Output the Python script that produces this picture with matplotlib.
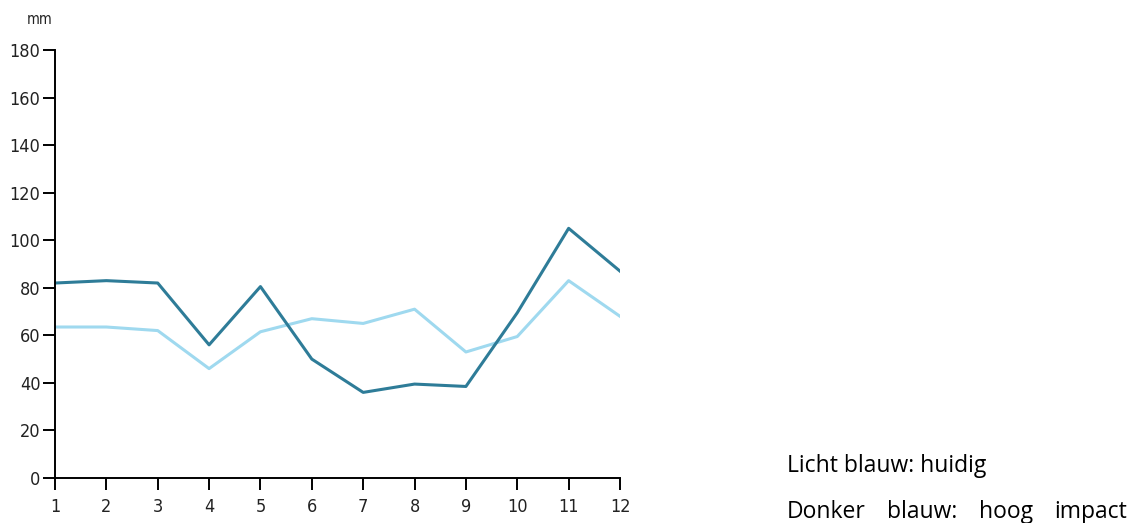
import matplotlib.pyplot as plt

months = [1, 2, 3, 4, 5, 6, 7, 8, 9, 10, 11, 12]
huidig = [63.5, 63.5, 62, 46, 61.5, 67, 65, 71, 53, 59.5, 83, 68]
hoog_impact = [82, 83, 82, 56, 80.5, 50, 36, 39.5, 38.5, 69.5, 105, 87]
y_ticks = [0, 20, 40, 60, 80, 100, 120, 140, 160, 180]
note_1 = "Licht blauw: huidig"
note_2 = ["Donker", "blauw:", "hoog", "impact"]

light = "#9fd9ef"
dark = "#2e7c98"
tick_font = ["DejaVu Sans"]
note_font = ["Open Sans", "DejaVu Sans"]

W, H = 1130, 523
fig = plt.figure(figsize=(W / 100, H / 100), dpi=100)
ax = fig.add_axes([55 / W, 45 / H, 565 / W, 428 / H])

ax.plot(months, huidig, color=light, linewidth=2.2)
ax.plot(months, hoog_impact, color=dark, linewidth=2.2)

ax.set_xlim(1, 12)
ax.set_ylim(0, 180)
ax.set_xticks(months)
ax.set_yticks(y_ticks)
for side in ("top", "right"):
    ax.spines[side].set_visible(False)
for side in ("left", "bottom"):
    ax.spines[side].set_linewidth(1.4)
ax.tick_params(axis="both", direction="out", length=8.5, width=1.4, labelsize=13, color="black")
ax.tick_params(axis="x", pad=6)
ax.tick_params(axis="y", pad=2)
for lbl in ax.get_xticklabels() + ax.get_yticklabels():
    lbl.set_family(tick_font)
    lbl.set_stretch("condensed")
    lbl.set_color("#222222")

fig.text(40 / W, 1 - 20 / H, "mm", ha="center", va="center", fontsize=10.5,
         family=tick_font, stretch="condensed", color="#222222")

# note text, second line justified between left and right edge
left, right = 787, 1127
fig.text(left / W, 1 - 472 / H, note_1, ha="left", va="baseline",
         fontsize=16.5, family=note_font)
texts = [fig.text(0, 1 - 518 / H, w, ha="left", va="baseline", fontsize=16.5, family=note_font)
         for w in note_2]
renderer = fig.canvas.get_renderer()
widths = [t.get_window_extent(renderer).width for t in texts]
gap = (right - left - sum(widths)) / (len(texts) - 1)
x = left
for t, w in zip(texts, widths):
    t.set_x(x / W)
    x += w + gap

fig.savefig("out.png", dpi=100)
